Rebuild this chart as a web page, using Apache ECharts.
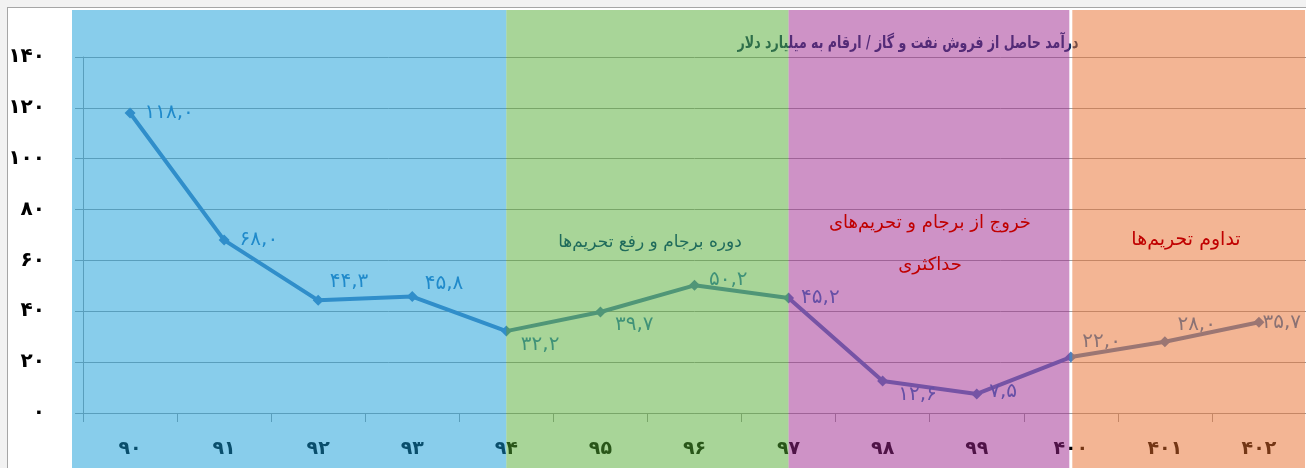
<!DOCTYPE html>
<html><head><meta charset="utf-8">
<script src="https://cdn.jsdelivr.net/npm/echarts/dist/echarts.min.js"></script>
<style>
html,body{margin:0;padding:0;width:1306px;height:468px;overflow:hidden;background:#f2f2f2;}
#frame{position:absolute;left:7px;top:7px;width:1299px;height:461px;background:#fff;border-left:1px solid #a6a6a6;border-top:1px solid #a6a6a6;box-sizing:border-box;}
#chart{position:absolute;left:0;top:0;width:1306px;height:468px;}
</style></head><body>
<div id="frame"></div><div id="chart"></div>
<script>
// ---- data ----
const categories = ['90','91','92','93','94','95','96','97','98','99','400','401','402'];
const revenue = [118.0, 68.0, 44.3, 45.8, 32.2, 39.7, 50.2, 45.2, 12.6, 7.5, 22.0, 28.0, 35.7];
const yMin = 0, yMax = 140, yStep = 20;
const titleText = 'درآمد حاصل از فروش نفت و گاز / ارقام به میلیارد دلار';
const bandFrom = ['90', '94', '97', '400'];
const bandTo = ['94', '97', '400', '402'];
const periodLabels = ['دوره برجام و رفع تحریم‌ها', 'خروج از برجام و تحریم‌های\nحداکثری', 'تداوم تحریم‌ها'];

// ---- styles ----
const bandColors = ['rgba(17,155,215,0.5)', 'rgba(81,171,49,0.5)', 'rgba(157,37,141,0.5)', 'rgba(231,107,41,0.5)'];
const bandGapLeft = [0, 0, 0, 1.5];
const bandGapRight = [0, 0, 1.5, 0];
const labelOffsets = [[4,0],[5,0],[1,-19],[2,-13],[4,14],[4,13],[4,-6],[2,0],[5,14],[2,-2],[1,-15],[2,-17],[-7,1]];
const FONT = 'DejaVu Sans';

const faDigits = '۰۱۲۳۴۵۶۷۸۹';
const fa = s => String(s).replace(/\d/g, d => faDigits[d]);

const chart = echarts.init(document.getElementById('chart'), null, {renderer: 'canvas'});
const gridLeft = 83, gridWidth = 1226;

chart.setOption({
  backgroundColor: 'transparent',
  animation: false,
  grid: {left: gridLeft, top: 57, width: gridWidth, bottom: 55, containLabel: false},
  xAxis: {
    type: 'category',
    data: categories,
    boundaryGap: true,
    axisLine: {show: true, lineStyle: {color: '#a0a0a0', width: 1}},
    axisTick: {show: true, length: 9, lineStyle: {color: '#a0a0a0'}},
    axisLabel: {formatter: v => fa(v), color: '#000', fontFamily: FONT, fontWeight: 'bold', fontSize: 19, margin: 27}
  },
  yAxis: {
    type: 'value', min: yMin, max: yMax, interval: yStep,
    axisLine: {show: true, lineStyle: {color: '#a0a0a0', width: 1}},
    axisTick: {show: true, length: 8, lineStyle: {color: '#a0a0a0'}},
    splitLine: {show: true, lineStyle: {color: '#a0a0a0', width: 1}},
    axisLabel: {formatter: v => fa(v), color: '#000', fontFamily: FONT, fontWeight: 'bold', fontSize: 20, margin: 38}
  },
  graphic: [
    {type: 'text', z: 1, x: 908, y: 44, scaleX: 0.74, style: {text: titleText, fill: '#0A3060', font: 'bold 17px "DejaVu Sans"', textAlign: 'center', textVerticalAlign: 'middle'}},
    {type: 'text', z: 100, x: 650, y: 243, style: {text: periodLabels[0], fill: '#1F6B5B', font: '17px "DejaVu Sans"', textAlign: 'center', textVerticalAlign: 'middle'}},
    {type: 'text', z: 100, x: 930, y: 244, style: {text: periodLabels[1], fill: '#C00000', font: '18px "DejaVu Sans"', textAlign: 'center', textVerticalAlign: 'middle', lineHeight: 42}},
    {type: 'text', z: 100, x: 1186, y: 240, style: {text: periodLabels[2], fill: '#C00000', font: '19px "DejaVu Sans"', textAlign: 'center', textVerticalAlign: 'middle'}}
  ],
  series: [
    {
      type: 'line',
      z: 2,
      data: revenue.map((v, i) => ({value: v, label: {offset: labelOffsets[i]}})),
      symbol: 'diamond',
      symbolSize: 11,
      lineStyle: {color: '#4F81BD', width: 4},
      itemStyle: {color: '#4F81BD'},
      label: {
        show: true, position: 'right', color: '#2E79BE', fontFamily: FONT, fontSize: 20,
        formatter: p => fa(p.value.toFixed(1)).replace('.', ',')
      }
    },
    {
      type: 'custom',
      z: 10,
      silent: true,
      clip: false,
      encode: {x: [0, 1], y: 2},
      data: bandFrom.map((f, i) => [categories.indexOf(f), categories.indexOf(bandTo[i]), i]),
      renderItem: (params, api) => {
        const i = params.dataIndex;
        const half = api.size([1, 0])[0] / 2;
        let x0 = api.coord([api.value(0), 0])[0];
        let x1 = api.coord([api.value(1), 0])[0];
        if (i === 0) x0 = x0 - half - 11;
        if (i === bandFrom.length - 1) x1 = api.getWidth() - 1;
        x0 += bandGapLeft[i];
        x1 -= bandGapRight[i];
        return {type: 'rect', shape: {x: x0, y: 10, width: x1 - x0, height: api.getHeight() - 10}, style: {fill: bandColors[i]}};
      }
    }
  ]
});
</script>
</body></html>
